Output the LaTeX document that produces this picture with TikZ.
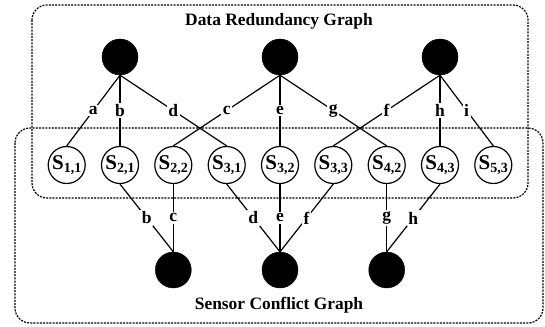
\documentclass[tikz,border=0pt]{standalone}
\usepackage{fontspec}
\setmainfont{Liberation Serif}
\newcommand{\sn}[1]{S\raisebox{-3.5pt}{\fontsize{14}{16}\selectfont #1}}
\begin{document}
\begin{tikzpicture}[x=1pt,y=-1pt,
  hub/.style={circle,fill=black,draw=black,minimum size=36pt,inner sep=0pt},
  sens/.style={circle,draw=black,line width=1.2pt,fill=white,minimum size=37pt,inner sep=0pt,font=\fontsize{21}{22}\selectfont\bfseries},
  lbl/.style={fill=white,inner sep=1.5pt,font=\fontsize{17.5}{19}\selectfont\bfseries},
  edge/.style={line width=1.2pt},
  grp/.style={line width=1.2pt,dash pattern=on 2pt off 1.2pt,rounded corners=15pt},
  ttl/.style={font=\fontsize{17.4}{20}\selectfont\bfseries,anchor=base}]
\useasboundingbox (0,0) rectangle (545,326);
% group boxes
\draw[grp] (32,5) rectangle (528,198);
\draw[grp] (15,128) rectangle (543,323);
\node[ttl] (t1) at (279,25.5) {Data Redundancy Graph};
\node[ttl] (t2) at (279,309) {Sensor Conflict Graph};
% hubs
\node[hub] (d1) at (120,57) {};
\node[hub] (d2) at (280,57) {};
\node[hub] (d3) at (440,57) {};
\node[hub] (c1) at (173.3,270) {};
\node[hub] (c2) at (280,270) {};
\node[hub] (c3) at (386.7,270) {};
% sensors
\node[sens] (s11) at (66.7,165) {\sn{1,1}};
\node[sens] (s21) at (120,165) {\sn{2,1}};
\node[sens] (s22) at (173.3,165) {\sn{2,2}};
\node[sens] (s31) at (226.7,165) {\sn{3,1}};
\node[sens] (s32) at (280,165) {\sn{3,2}};
\node[sens] (s33) at (333.3,165) {\sn{3,3}};
\node[sens] (s42) at (386.7,165) {\sn{4,2}};
\node[sens] (s43) at (440,165) {\sn{4,3}};
\node[sens] (s53) at (493.3,165) {\sn{5,3}};
% redundancy edges
\draw[edge] (d1.south) -- node[lbl] {a} (s11.north);
\draw[edge] (d1.south) -- node[lbl] {b} (s21.north);
\draw[edge] (d1.south) -- node[lbl] {d} (s31.north);
\draw[edge] (d2.south) -- node[lbl] {c} (s22.north);
\draw[edge] (d2.south) -- node[lbl] {e} (s32.north);
\draw[edge] (d2.south) -- node[lbl] {g} (s42.north);
\draw[edge] (d3.south) -- node[lbl] {f} (s33.north);
\draw[edge] (d3.south) -- node[lbl] {h} (s43.north);
\draw[edge] (d3.south) -- node[lbl] {i} (s53.north);
% conflict edges
\draw[edge] (s21.south) -- node[lbl] {b} (c1.north);
\draw[edge] (s22.south) -- node[lbl] {c} (c1.north);
\draw[edge] (s31.south) -- node[lbl] {d} (c2.north);
\draw[edge] (s32.south) -- node[lbl] {e} (c2.north);
\draw[edge] (s33.south) -- node[lbl] {f} (c2.north);
\draw[edge] (s42.south) -- node[lbl] {g} (c3.north);
\draw[edge] (s43.south) -- node[lbl] {h} (c3.north);
\end{tikzpicture}
\end{document}
